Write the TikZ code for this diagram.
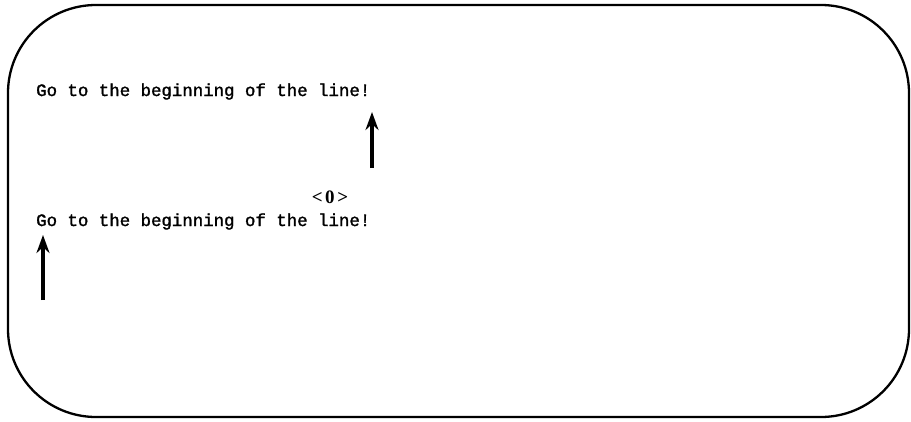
\documentclass[tikz,border=0pt]{standalone}
\usepackage{fontspec}
\newfontfamily\codeFont[FakeBold=1.6]{Liberation Mono}
\newfontfamily\zeroFont{Liberation Serif}
\usetikzlibrary{arrows.meta}
\tikzset{
  frame/.style={line width=2.3pt, rounded corners=88pt},
  codeline/.style={anchor=base west, inner sep=0pt, font=\fontsize{17.4}{20}\selectfont\codeFont},
  marker/.style={anchor=base, inner sep=0pt, font=\fontsize{19}{20}\selectfont\zeroFont\bfseries},
  pointer/.style={line width=3.4pt, -{Stealth[length=18pt,width=13pt]}}
}
\begin{document}
\begin{tikzpicture}[x=1pt,y=-1pt]
\useasboundingbox (0,0) rectangle (911,421);
\draw[frame] (8,5) rectangle (909,417);
\node[codeline] (line1) at (36,96) {Go to the beginning of the line!};
\node[marker] (zero) at (330,203) {<\kern2.5pt0\kern2.5pt>};
\node[codeline] (line2) at (36,226) {Go to the beginning of the line!};
\coordinate (p1s) at (372,168);
\coordinate (p1e) at (372,112);
\coordinate (p2s) at (43,300);
\coordinate (p2e) at (43,235);
\draw[pointer] (p1s) -- (p1e);
\draw[pointer] (p2s) -- (p2e);
\end{tikzpicture}
\end{document}
